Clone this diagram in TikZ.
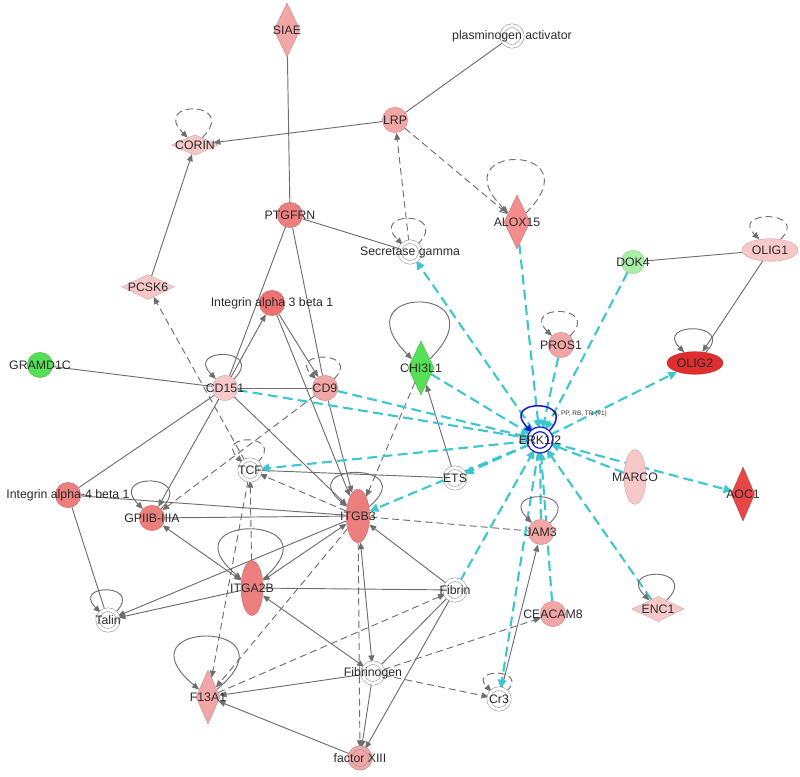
\documentclass[tikz,border=0pt]{standalone}
\usepackage{fontspec}
\setsansfont{Liberation Sans}
\usepackage{tikz}
\usetikzlibrary{arrows.meta, shapes.geometric, backgrounds}

\definecolor{edgegray}{HTML}{6E6E6E}
\definecolor{erkcyan}{HTML}{3CC6CF}
\definecolor{erkblue}{HTML}{1A1ACF}
\definecolor{pinklt}{HTML}{F7C8C8}
\definecolor{pinkmd}{HTML}{F2A6A6}
\definecolor{salmon}{HTML}{EC7E7E}
\definecolor{redup}{HTML}{E02E2E}
\definecolor{redmd}{HTML}{E84646}
\definecolor{greendn}{HTML}{55E055}
\definecolor{greenlt}{HTML}{A8EFA8}
\definecolor{txtgray}{HTML}{2A2A2A}

\newcommand{\genefont}{\sffamily\fontsize{10.5}{12}\selectfont}

\begin{document}
\begin{tikzpicture}[
    x=0.03cm, y=0.03cm,
    txt/.style={font=\genefont, text=txtgray, inner sep=0pt},
    erklab/.style={font=\sffamily\fontsize{5.5}{6}\selectfont, text=txtgray, inner sep=0pt},
    circ/.style={circle, fill=#1, draw=#1!80!black, line width=0.3pt, minimum size=0.76cm, inner sep=0pt},
    cplx/.style={circle, draw=gray!80, double=#1, double distance=2.6pt, fill=#1, line width=0.5pt, minimum size=0.62cm, inner sep=0pt},
    cplx/.default=white,
    tdia/.style={diamond, fill=#1, draw=#1!80!black, line width=0.3pt, minimum width=0.78cm, minimum height=1.62cm, inner sep=0pt},
    wdia/.style={diamond, fill=#1, draw=#1!80!black, line width=0.3pt, minimum width=1.56cm, minimum height=0.75cm, inner sep=0pt},
    vell/.style={ellipse, fill=#1, draw=#1!80!black, line width=0.3pt, minimum width=0.7cm, minimum height=1.6cm, inner sep=0pt},
    hell/.style={ellipse, fill=#1, draw=#1!80!black, line width=0.3pt, minimum width=1.68cm, minimum height=0.68cm, inner sep=0pt},
    erkhub/.style={circle, draw=erkblue, double=white, double distance=2.8pt, fill=white, line width=1.1pt, minimum size=0.64cm, inner sep=0pt},
    rel/.style={draw=edgegray, line width=0.8pt},
    act/.style={rel, -{Triangle[length=6pt, width=5pt]}},
    both/.style={rel, {Triangle[length=6pt, width=5pt]}-{Triangle[length=6pt, width=5pt]}},
    ind/.style={act, dash pattern=on 6pt off 3.5pt},
    indline/.style={rel, dash pattern=on 6pt off 3.5pt},
    indopen/.style={rel, dash pattern=on 6pt off 3.5pt, -{Triangle[open, length=7pt, width=6pt]}},
    erkarr/.style={draw=erkcyan, line width=1.8pt, dash pattern=on 8.5pt off 4.5pt, -{Triangle[length=7.5pt, width=7pt]}},
    sloop/.style={act, out=45, in=135, min distance=#1},
    dloop/.style={ind, out=45, in=135, min distance=#1},
    erkloop/.style={draw=erkblue, line width=1.3pt, -{Triangle[length=6pt, width=6pt]}, out=45, in=135, min distance=1.45cm},
]

\useasboundingbox (0,0) rectangle (800,777);

% ============ Upper part ============
\node[tdia=pinkmd, label={[txt]center:SIAE}] (siae) at (287,747) {};
\node[cplx, label={[txt]center:plasminogen activator}] (plasmin) at (512,741) {};
\node[circ=pinkmd, label={[txt]center:LRP}] (lrp) at (395,657) {};
\node[wdia=pinklt, minimum width=1.4cm, minimum height=0.62cm, label={[txt]center:CORIN}] (corin) at (195,632) {};
\node[circ=salmon, label={[txt]center:PTGFRN}] (ptgfrn) at (290,562) {};
\node[cplx, label={[txt]center:Secretase gamma}] (secret) at (410,525) {};
\node[tdia=pinkmd!85!red, label={[txt]center:ALOX15}] (alox) at (517,555) {};
\node[circ=greenlt, minimum size=0.7cm, label={[txt]center:DOK4}] (dok4) at (633,515) {};
\node[hell=pinklt, label={[txt]center:OLIG1}] (olig1) at (770,527) {};

% ============ Middle part ============
\node[wdia=pinklt, label={[txt]center:PCSK6}] (pcsk6) at (148,490) {};
\node[circ=salmon!90!red, label={[txt]center:Integrin alpha 3 beta 1}] (ia3b1) at (272,474) {};
\node[circ=greendn, label={[txt]center:GRAMD1C}] (gramd) at (40,412) {};
\node[circ=pinklt, label={[txt]center:CD151}] (cd151) at (225,389) {};
\node[circ=pinkmd, label={[txt]center:CD9}] (cd9) at (325,389) {};
\node[tdia=greendn, label={[txt]center:CHI3L1}] (chi3l1) at (421,409) {};
\node[circ=pinkmd, label={[txt]center:PROS1}] (pros1) at (561,432) {};
\node[hell=redup, label={[txt]center:OLIG2}] (olig2) at (695,414) {};
\node[erkhub, label={[txt]center:ERK1/2}] (erk) at (540,337) {};
\node[erklab, anchor=west] (erktag) at (553,363) {A, PP, RB, TR (\#1)};
\node[cplx, label={[txt]center:TCF}] (tcf) at (250,307) {};
\node[cplx, label={[txt]center:ETS}] (ets) at (455,299) {};
\node[circ=salmon, label={[txt]center:Integrin alpha-4 beta 1}] (ia4b1) at (68,282) {};
\node[circ=salmon, label={[txt]center:GPIIB-IIIA}] (gpiib) at (152,259) {};
\node[vell=salmon, label={[txt]center:ITGB3}] (itgb3) at (358,261) {};
\node[vell=pinklt, minimum width=0.66cm, minimum height=1.64cm, label={[txt]center:MARCO}] (marco) at (635,300) {};
\node[tdia=redmd, minimum width=0.7cm, label={[txt]center:AOC1}] (aoc1) at (743,283) {};
\node[circ=pinkmd, label={[txt]center:JAM3}] (jam3) at (541,245) {};

% ============ Lower part ============
\node[vell=salmon, minimum width=0.66cm, minimum height=1.65cm, label={[txt]center:ITGA2B}] (itga2b) at (252,189) {};
\node[cplx, label={[txt]center:Talin}] (talin) at (108,157) {};
\node[cplx, label={[txt]center:Fibrin}] (fibrin) at (455,187) {};
\node[circ=pinkmd, label={[txt]center:CEACAM8}] (ceacam) at (553,163) {};
\node[wdia=pinklt, label={[txt]center:ENC1}] (enc1) at (658,168) {};
\node[cplx, label={[txt]center:Fibrinogen}] (fibrinogen) at (373,104) {};
\node[tdia=pinkmd, minimum width=0.72cm, label={[txt]center:F13A1}] (f13a1) at (208,80) {};
\node[cplx, label={[txt]center:Cr3}] (cr3) at (499,78) {};
\node[cplx=pinkmd, label={[txt]center:factor XIII}] (fxiii) at (360,19) {};

\begin{scope}[on background layer]
% Gray relations, top
\draw[rel] (siae) -- (ptgfrn);
\draw[rel] (plasmin) -- (lrp);
\draw[act] (lrp) -- (corin);
\draw[indopen] (lrp) -- (alox);
\draw[ind] (secret) -- (lrp);
\draw[rel] (ptgfrn) -- (secret);
\draw[act] (pcsk6) -- (corin);
\draw[ind] (tcf) -- (pcsk6);
\draw[rel] (dok4) -- (olig1);
\draw[act] (olig1) -- (olig2);

% Gray relations, integrins
\draw[rel] (gramd) -- (cd151);
\draw[rel] (cd151) -- (cd9);
\draw[act] (cd151) -- (ia3b1);
\draw[rel] (ptgfrn) -- (cd151);
\draw[rel] (ptgfrn) -- (cd9);
\draw[act] (ia3b1) -- (cd9);
\draw[act] (ia3b1) -- (itgb3);
\draw[act] (cd9) -- (itgb3);
\draw[act] (cd151) -- (itgb3);
\draw[rel] (cd151) -- (ia4b1);
\draw[act] (cd151) -- (gpiib);
\draw[ind] (cd9) -- (gpiib);
\draw[ind] (chi3l1) -- (itgb3);
\draw[act] (ets) -- (chi3l1);
\draw[rel] (ets) -- (tcf);
\draw[ind] (itgb3) -- (tcf);
\draw[ind] (itga2b) -- (tcf);
\draw[ind] (tcf) -- (f13a1);
\draw[rel] (ia4b1) -- (itgb3);
\draw[rel] (gpiib) -- (itgb3);
\draw[both] (itga2b) -- (gpiib);
\draw[both] (itga2b) -- (itgb3);
\draw[act] (itga2b) -- (talin);
\draw[act] (itgb3) -- (talin);
\draw[rel] (ia4b1) -- (talin);

% Gray relations, coagulation
\draw[rel] (itga2b) -- (fibrin);
\draw[act] (fibrin) -- (itgb3);
\draw[ind] (f13a1) -- (fibrin);
\draw[both] (itga2b) -- (fibrinogen);
\draw[both] (itgb3) -- (fibrinogen);
\draw[ind] (itgb3) -- (fxiii);
\draw[act] (fibrinogen) -- (fxiii);
\draw[act] (fibrin) -- (fxiii);
\draw[rel] (fibrin) -- (fibrinogen);
\draw[act] (fibrinogen) -- (f13a1);
\draw[act] (fxiii) -- (f13a1);
\draw[ind] (itgb3) -- (f13a1);
\draw[indline] (itgb3) -- (jam3);
\draw[ind] (fibrinogen) -- (ceacam);
\draw[ind] (fibrinogen) -- (cr3);
\draw[act] (cr3) -- (jam3);

% ERK1/2 hub
\draw[erkarr] (erk) -- (secret);
\draw[erkarr] (alox) -- (erk);
\draw[erkarr] (dok4) -- (erk);
\draw[erkarr] (pros1) -- (erk);
\draw[erkarr] (erk) -- (olig2);
\draw[erkarr] (chi3l1) -- (erk);
\draw[erkarr] (cd151) -- (erk);
\draw[erkarr] (cd9) -- (erk);
\draw[erkarr] (erk) -- (tcf);
\draw[erkarr] (erk) -- (ets);
\draw[erkarr] (erk) -- (itgb3);
\draw[erkarr] (fibrin) -- (erk);
\draw[erkarr] (jam3) -- (erk);
\draw[erkarr] (erk) -- (cr3);
\draw[erkarr] (ceacam) -- (erk);
\draw[erkarr] (enc1) -- (erk);
\draw[erkarr] (marco) -- (erk);
\draw[erkarr] (erk) -- (aoc1);

% Self loops
\draw[dloop=1.6cm] (corin) to (corin);
\draw[dloop=3.0cm] (alox) to (alox);
\draw[dloop=1.45cm] (secret) to (secret);
\draw[dloop=1.25cm] (olig1) to (olig1);
\draw[dloop=1.35cm] (pros1) to (pros1);
\draw[dloop=1.2cm] (cd9) to (cd9);
\draw[dloop=1.25cm] (tcf) to (tcf);
\draw[dloop=1.0cm] (cr3) to (cr3);
\draw[sloop=3.2cm] (chi3l1) to (chi3l1);
\draw[sloop=1.35cm] (cd151) to (cd151);
\draw[sloop=1.3cm] (olig2) to (olig2);
\draw[sloop=1.55cm] (gpiib) to (gpiib);
\draw[sloop=2.1cm, out=40, in=140] (itgb3) to (itgb3);
\draw[sloop=3.1cm, out=40, in=140] (itga2b) to (itga2b);
\draw[sloop=1.45cm] (jam3) to (jam3);
\draw[sloop=1.25cm] (talin) to (talin);
\draw[sloop=1.45cm] (enc1) to (enc1);
\draw[sloop=3.3cm, out=40, in=140] (f13a1) to (f13a1);
\draw[erkloop] (erk) to (erk);
\end{scope}

\end{tikzpicture}
\end{document}
